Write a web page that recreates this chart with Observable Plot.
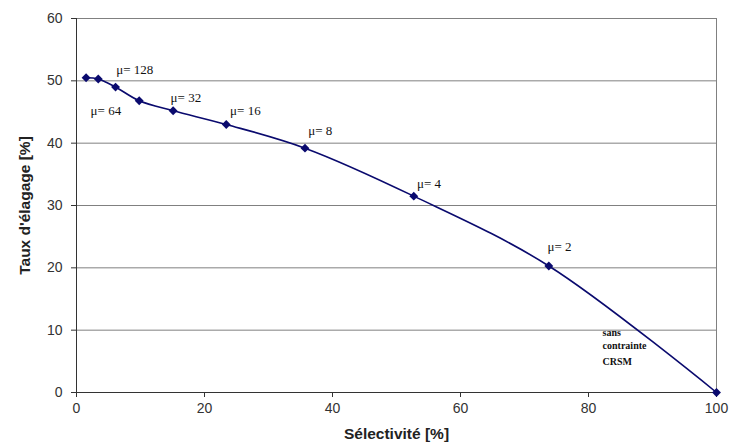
<!DOCTYPE html>
<html>
<head>
<meta charset="utf-8">
<script src="https://cdn.jsdelivr.net/npm/d3@7"></script>
<script src="https://cdn.jsdelivr.net/npm/@observablehq/plot@0.6"></script>
<style>
  html, body { margin: 0; padding: 0; background: #fff; }
  g.serif-label text { font-family: "Liberation Serif", "DejaVu Serif", "Times New Roman", serif !important; }
</style>
</head>
<body>
<div id="chart"></div>
<script>
const selectivite = [1.5, 3.4, 6.1, 9.8, 15.1, 23.4, 35.7, 52.7, 73.8, 100];
const elagage = [50.5, 50.3, 49.0, 46.8, 45.2, 43.0, 39.2, 31.5, 20.3, 0];

const labelText = ["μ= 128", "μ= 64", "μ= 32", "μ= 16", "μ= 8", "μ= 4", "μ= 2"];
const labelX = [6.2, 2.2, 14.7, 24.0, 36.2, 53.2, 73.6];
const labelY = [51.7, 45.2, 47.3, 45.2, 42.0, 33.4, 23.3];

const noteText = ["sans", "contrainte", "CRSM"];
const noteX = [82.2, 82.2, 82.2];
const noteY = [9.6, 7.5, 5.0];

const xTicks = [0, 20, 40, 60, 80, 100];
const yTicks = [0, 10, 20, 30, 40, 50, 60];

const points = selectivite.map((x, i) => ({x, y: elagage[i]}));
const labels = labelText.map((t, i) => ({t, x: labelX[i], y: labelY[i]}));
const notes = noteText.map((t, i) => ({t, x: noteX[i], y: noteY[i]}));

const navy = "#0a0a6e";

const chart = Plot.plot({
  width: 729,
  height: 444,
  marginLeft: 76,
  marginRight: 13,
  marginTop: 18,
  marginBottom: 52,
  style: {fontFamily: "'Liberation Sans', Arial, sans-serif", background: "#fff"},
  x: {domain: [0, 100]},
  y: {domain: [0, 60]},
  marks: [
    Plot.ruleY(yTicks.filter(d => d > 0), {stroke: "#808080", strokeWidth: 1}),
    Plot.ruleX([100], {stroke: "#808080", strokeWidth: 1}),
    Plot.axisX({ticks: xTicks, tickSize: 5, tickPadding: 6, fontSize: 14, color: "#333",
      label: "Sélectivité [%]", labelAnchor: "center", labelArrow: "none", labelOffset: 46}),
    Plot.axisY({ticks: yTicks, tickSize: 5, tickPadding: 9, fontSize: 14, color: "#333",
      label: "Taux d'élagage [%]", labelAnchor: "center", labelArrow: "none", labelOffset: 58}),
    Plot.ruleX([0], {stroke: "#333", strokeWidth: 1}),
    Plot.ruleY([0], {stroke: "#333", strokeWidth: 1}),
    Plot.line(points, {x: "x", y: "y", stroke: navy, strokeWidth: 1.6, curve: "catmull-rom"}),
    Plot.dot(points, {x: "x", y: "y", symbol: "diamond2", r: 4, fill: navy, stroke: "none"}),
    Plot.text(labels, {x: "x", y: "y", text: "t", textAnchor: "start", fontSize: 13,
      className: "serif-label", fill: "#111"}),
    Plot.text(notes, {x: "x", y: "y", text: "t", textAnchor: "start", fontSize: 10, fontWeight: "bold",
      className: "serif-label", fill: "#111"})
  ]
});

chart.querySelectorAll("[aria-label='x-axis label'] text, [aria-label='y-axis label'] text").forEach(t => {
  t.setAttribute("font-weight", "bold");
  t.setAttribute("font-size", "15.5");
  t.setAttribute("fill", "#222");
});
chart.querySelectorAll(".serif-label text, g.serif-label").forEach(t => {
  t.style.fontFamily = "'Liberation Serif', 'DejaVu Serif', serif";
});
document.getElementById("chart").appendChild(chart);
</script>
</body>
</html>
